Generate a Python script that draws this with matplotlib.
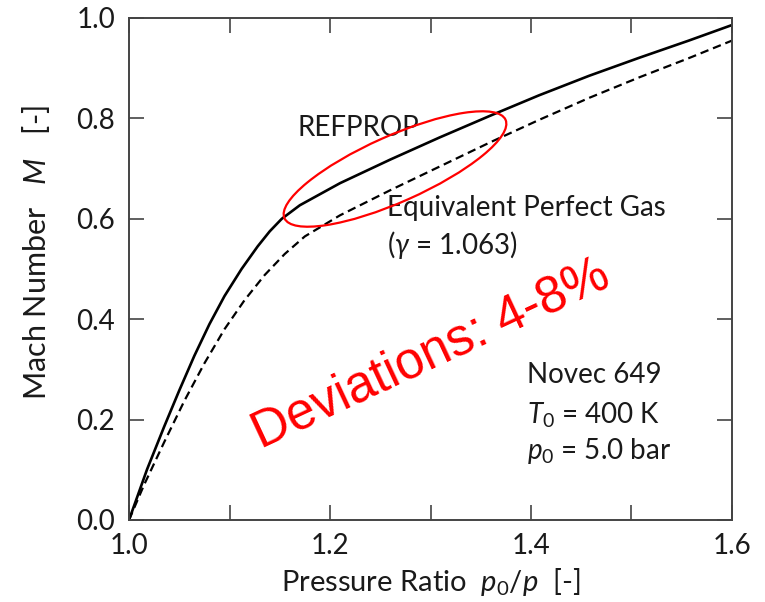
import numpy as np
import matplotlib
matplotlib.use("Agg")
import matplotlib.pyplot as plt
from matplotlib.patches import Ellipse
from matplotlib.ticker import MultipleLocator

# ── Data (pressure ratio p0/p vs Mach number) ──
refprop_p = [1.0, 1.018, 1.035, 1.05, 1.065, 1.08, 1.095, 1.112, 1.128,
             1.14, 1.152, 1.17, 1.21, 1.26, 1.309, 1.359, 1.408, 1.458,
             1.508, 1.557, 1.6]
refprop_m = [0.0, 0.101, 0.186, 0.258, 0.327, 0.390, 0.446, 0.500, 0.545,
             0.575, 0.600, 0.627, 0.671, 0.718, 0.762, 0.805, 0.846, 0.885,
             0.921, 0.955, 0.986]

gas_p = [1.0, 1.015, 1.035, 1.055, 1.075, 1.095, 1.115, 1.135, 1.155,
         1.175, 1.21, 1.26, 1.309, 1.359, 1.408, 1.458, 1.508, 1.557, 1.6]
gas_m = [0.0, 0.070, 0.155, 0.237, 0.312, 0.380, 0.438, 0.488, 0.530,
         0.565, 0.607, 0.657, 0.704, 0.752, 0.797, 0.841, 0.882, 0.920,
         0.955]

x_ticks = [1.0, 1.2, 1.4, 1.6]
y_ticks = [0.0, 0.2, 0.4, 0.6, 0.8, 1.0]

# ── Fonts ──
plt.rcParams['font.family'] = ['Lato', 'DejaVu Sans']
plt.rcParams['mathtext.fontset'] = 'custom'
plt.rcParams['mathtext.rm'] = 'Lato'
plt.rcParams['mathtext.it'] = 'Lato:italic'
FS = 20
TXT = '#1a1a1a'
AX = '#444444'

fig = plt.figure(figsize=(7.65, 6.02), dpi=100)
ax = fig.add_axes([129 / 765, 1 - 520 / 602, 603 / 765, 502 / 602])

ax.plot(refprop_p, refprop_m, color='black', lw=1.9,
        solid_joinstyle='round')
ax.plot(gas_p, gas_m, color='black', lw=1.6, dashes=(3.8, 2.2))

ax.set_xlim(1.0, 1.6)
ax.set_ylim(0.0, 1.0)
ax.set_xticks(x_ticks)
ax.set_yticks(y_ticks)
ax.xaxis.set_minor_locator(MultipleLocator(0.1))
ax.set_xticklabels([f"{v:.1f}" for v in x_ticks])
ax.set_yticklabels([f"{v:.1f}" for v in y_ticks])

ax.tick_params(which='both', direction='in', top=True, right=True,
               length=11, width=1.2, color=AX, labelsize=FS,
               labelcolor=TXT)
ax.tick_params(axis='x', which='both', pad=9)
ax.tick_params(axis='y', which='both', pad=10)
for s in ax.spines.values():
    s.set_color(AX)
    s.set_linewidth(1.4)

ax.set_xlabel(r"Pressure Ratio  $p_0/p$  [-]", fontsize=21, color=TXT)
ax.set_ylabel(r"Mach Number   $M$   [-]", fontsize=22, color=TXT)
ax.xaxis.set_label_coords(0.5, -0.092)
ax.yaxis.set_label_coords(-0.128, 0.532)

# annotations
ax.text(1.168, 0.781, "REFPROP", fontsize=FS, color=TXT, va='center')
ax.text(1.257, 0.621, "Equivalent Perfect Gas", fontsize=FS, color=TXT,
        va='center')
ax.text(1.257, 0.548, r"($\gamma$ = 1.063)", fontsize=FS, color=TXT,
        va='center')
ax.text(1.396, 0.289, "Novec 649", fontsize=FS, color=TXT, va='center')
ax.text(1.396, 0.209, r"$T_0$ = 400 K", fontsize=FS, color=TXT, va='center')
ax.text(1.396, 0.137, r"$p_0$ = 5.0 bar", fontsize=FS, color=TXT,
        va='center')

ax.text(1.30, 0.33, "Deviations: 4-8%", fontsize=37, color='#ff0000',
        family=['Liberation Sans', 'DejaVu Sans'], rotation=25,
        rotation_mode='anchor', ha='center', va='center')

# red ellipse around the deviation region (figure inches)
ell = Ellipse((3.95, (602 - 169) / 100), 2.42, 0.66, angle=24,
              transform=fig.dpi_scale_trans, fill=False,
              edgecolor='#ff0000', lw=1.6, zorder=5)
fig.patches.append(ell)

fig.savefig("out.png", dpi=100, facecolor='white')
